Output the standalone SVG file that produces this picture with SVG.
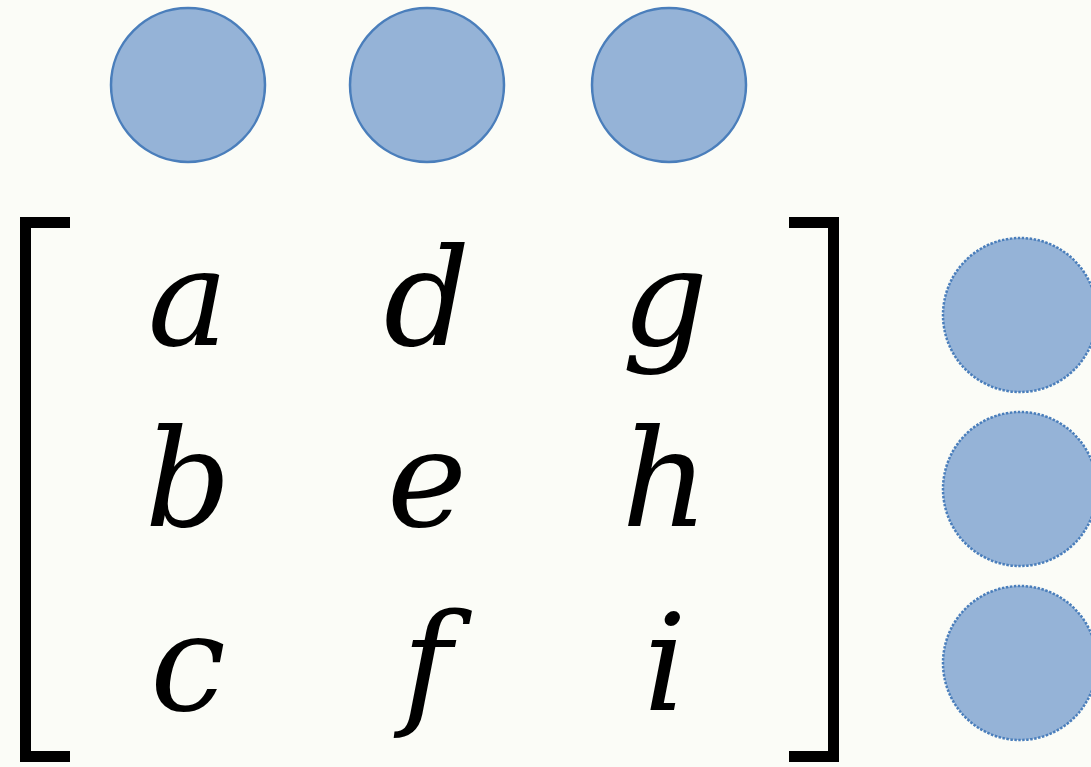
<svg xmlns="http://www.w3.org/2000/svg" width="1091" height="767" viewBox="0 0 1091 767">
<style>
.top{fill:#95b3d7;stroke:#4a7ebb;stroke-width:2.5}
.side{fill:#95b3d7;stroke:#4a7ebb;stroke-width:2.5;stroke-dasharray:2.5 1.5}
.m{font-family:'DejaVu Serif',serif;font-style:italic;font-size:135px;fill:#000;text-anchor:middle}
.br{fill:none;stroke:#000;stroke-width:11}
</style>
<rect width="1091" height="767" fill="#fbfcf7"/>
<g id="top-circles">
<circle id="t1" class="top" cx="188" cy="85" r="77"/>
<circle id="t2" class="top" cx="427" cy="85" r="77"/>
<circle id="t3" class="top" cx="669" cy="85" r="77"/>
</g>
<g id="side-circles">
<circle id="s1" class="side" cx="1020" cy="315" r="77"/>
<circle id="s2" class="side" cx="1020" cy="489" r="77"/>
<circle id="s3" class="side" cx="1020" cy="663" r="77"/>
</g>
<g id="matrix">
<path class="br" d="M70 222.5 H25.5 V756.5 H70"/>
<path class="br" d="M789 222.5 H833.5 V756.5 H789"/>
<text class="m" x="188" y="345">a</text>
<text class="m" x="427" y="345">d</text>
<text class="m" x="665" y="345">g</text>
<text class="m" x="188" y="526">b</text>
<text class="m" x="427" y="526">e</text>
<text class="m" x="665" y="526">h</text>
<text class="m" x="188" y="710">c</text>
<text class="m" x="427" y="710">f</text>
<text class="m" x="665" y="710">i</text>
</g>
</svg>
